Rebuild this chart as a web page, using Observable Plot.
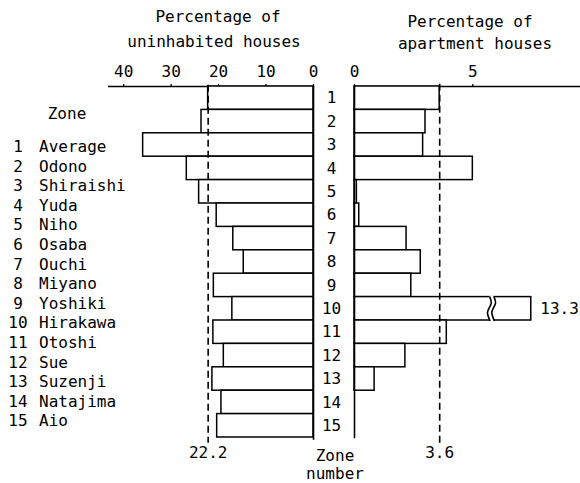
<!DOCTYPE html>
<html><head><meta charset="utf-8">
<script src="https://cdn.jsdelivr.net/npm/d3@7"></script>
<script src="https://cdn.jsdelivr.net/npm/@observablehq/plot@0.6"></script>
<style>
body{margin:0;background:#fff}
#chart{position:relative;width:580px;height:483px;font-family:"DejaVu Sans Mono",monospace;font-size:16px;color:#000;overflow:hidden;background:#fff}
.t{position:absolute;white-space:pre;line-height:1;transform:translate(-50%,-50%)}
.l{position:absolute;white-space:pre;line-height:1;transform:translate(0,-50%)}
.p{position:absolute;top:0}
</style></head><body><div id="chart"></div>
<script>
// ---- data ----
const zones = [1, 2, 3, 4, 5, 6, 7, 8, 9, 10, 11, 12, 13, 14, 15];
const zoneNames = ["Average", "Odono", "Shiraishi", "Yuda", "Niho", "Osaba", "Ouchi", "Miyano",
  "Yoshiki", "Hirakawa", "Otoshi", "Sue", "Suzenji", "Natajima", "Aio"];
const uninhabitedPct = [22.2, 23.6, 35.9, 26.7, 24.1, 20.4, 16.9, 14.7, 21.0, 17.1, 21.1, 18.9, 21.3, 19.4, 20.3];
const apartmentPct = [3.6, 3.0, 2.9, 5.0, 0.1, 0.2, 2.2, 2.8, 2.4, 13.3, 3.9, 2.15, 0.85, 0, 0];
const uninhabitedAverage = 22.2;
const apartmentAverage = 3.6;
const uninhabitedTicks = [0, 10, 20, 30, 40];
const apartmentTicks = [0, 5];
const apartmentBreak = [5.72, 5.9];   // where an off-scale bar is cut
const apartmentCutEnd = 7.47;         // drawn end of an off-scale bar

const rows = zones.map((z, i) => ({zone: z, name: zoneNames[i], u: uninhabitedPct[i], a: apartmentPct[i]}));

const chart = document.getElementById("chart");
const font = {fontFamily: "'DejaVu Sans Mono', monospace", fontSize: "16px", background: "transparent", color: "#000", overflow: "visible"};
const common = {height: 483, marginTop: 86, marginBottom: 46, y: {domain: [0, 15], reverse: true, axis: null}, style: font};

// ---- left panel: uninhabited houses ----
const left = Plot.plot({
  ...common, width: 345, marginLeft: 108, marginRight: 32,
  x: {domain: [43.2, 0]},
  marks: [
    Plot.axisX({anchor: "top", ticks: uninhabitedTicks, tickSize: 3, tickPadding: 7, tickFormat: d => d, label: null, strokeWidth: 1.3}),
    Plot.ruleY([0], {stroke: "black", strokeWidth: 1.3}),
    Plot.rect(rows, {x1: 0, x2: "u", y1: d => d.zone - 1, y2: d => d.zone, fill: "white", stroke: "black", strokeWidth: 1.5}),
    Plot.ruleX([0], {y1: 0, y2: 15.12, stroke: "black", strokeWidth: 1.6}),
    Plot.ruleX([uninhabitedAverage], {y1: -0.05, y2: 15.25, stroke: "black", strokeWidth: 1.6, strokeDasharray: "7,4"}),
    Plot.text([uninhabitedAverage], {x: d => d, frameAnchor: "bottom", dy: 20, text: d => d.toFixed(1)}),
    Plot.text(rows, {x: () => 0, y: d => d.zone - 0.5, text: "zone", dx: 18})
  ]
});
left.classList.add("p"); left.style.left = "0px";
chart.appendChild(left);

// ---- right panel: apartment houses ----
const off = rows.filter(d => d.a > apartmentBreak[0]);
const bars = rows.filter(d => d.a > 0).map(d => ({zone: d.zone, x2: d.a > apartmentBreak[0] ? apartmentCutEnd : d.a}));
const squiggles = off.flatMap(d => apartmentBreak.flatMap((b, k) => [
  {k: `${d.zone}-${k}`, x: b, y: d.zone - 1},
  {k: `${d.zone}-${k}`, x: b + 0.06, y: d.zone - 0.75},
  {k: `${d.zone}-${k}`, x: b - 0.1, y: d.zone - 0.35},
  {k: `${d.zone}-${k}`, x: b, y: d.zone}
]));
const right = Plot.plot({
  ...common, width: 240, marginLeft: 14, marginRight: 0,
  x: {domain: [0, 9.55]},
  marks: [
    Plot.axisX({anchor: "top", ticks: apartmentTicks, tickSize: 3, tickPadding: 7, tickFormat: d => d, label: null, strokeWidth: 1.3}),
    Plot.ruleY([0], {stroke: "black", strokeWidth: 1.3}),
    Plot.rect(bars, {x1: 0, x2: "x2", y1: d => d.zone - 1, y2: d => d.zone, fill: "white", stroke: "black", strokeWidth: 1.5}),
    Plot.rect(off, {x1: apartmentBreak[0], x2: apartmentBreak[1], y1: d => d.zone - 1.05, y2: d => d.zone + 0.05, fill: "white"}),
    Plot.line(squiggles, {x: "x", y: "y", z: "k", curve: "catmull-rom", stroke: "black", strokeWidth: 1.6}),
    Plot.text(off, {x: () => apartmentCutEnd, y: d => d.zone - 0.5, text: d => d.a.toFixed(1), textAnchor: "start", dx: 9}),
    Plot.ruleX([0], {y1: 0, y2: 15.05, stroke: "black", strokeWidth: 1.6}),
    Plot.ruleX([apartmentAverage], {y1: -0.1, y2: 15.25, stroke: "black", strokeWidth: 1.6, strokeDasharray: "7,4"}),
    Plot.text([apartmentAverage], {x: d => d, frameAnchor: "bottom", dy: 20, text: d => d.toFixed(1)})
  ]
});
right.classList.add("p"); right.style.left = "340px";
chart.appendChild(right);

// ---- titles and labels ----
function put(cls, text, x, y) {
  const el = document.createElement("div");
  el.className = cls; el.textContent = text;
  el.style.left = x + "px"; el.style.top = y + "px";
  chart.appendChild(el);
}
put("t", "Percentage of", 218, 17);
put("t", "uninhabited houses", 214, 42);
put("t", "Percentage of", 470, 22);
put("t", "apartment houses", 475, 44);
put("t", "Zone", 335, 456);
put("t", "number", 335, 474);

// ---- zone key ----
put("t", "Zone", 67, 114);
zones.forEach((z, i) => {
  const y = 147 + i * 19.6;
  put("t", String(z), 18, y);
  put("l", zoneNames[i], 39, y);
});
</script></body></html>
